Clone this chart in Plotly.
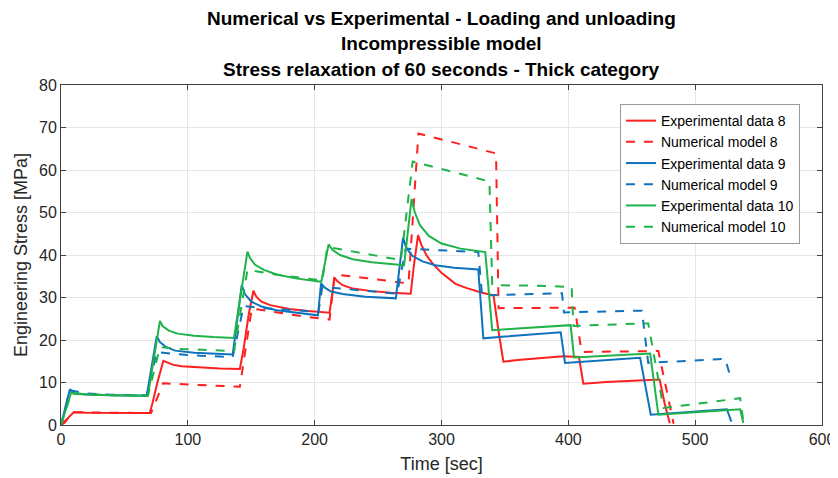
import plotly.graph_objects as go

# ---------------- data ----------------
t_exp8 = [0, 3, 6, 10, 20, 40, 70,
          72, 76, 80.7, 83, 88, 95, 110, 125, 141,
          144, 148, 151.7, 154, 158, 165, 180, 195, 211.7,
          213, 215.7, 218, 222, 230, 245, 260, 275.7,
          278, 281.5, 284, 288, 293, 300, 311, 320, 332, 341,
          345, 348.8, 360, 380, 396, 408.4,
          411.8, 430, 450, 472,
          476, 480]
s_exp8 = [0, 0.6, 1.8, 3.0, 2.9, 2.8, 2.8,
          5, 10, 15.1, 14.8, 14.2, 13.8, 13.5, 13.3, 13.2,
          18, 26, 31.6, 30.2, 29.0, 28.2, 27.3, 26.8, 26.4,
          29, 34.6, 33.8, 32.9, 32.1, 31.5, 31.1, 30.9,
          37, 44.7, 42.5, 40.0, 38.0, 35.8, 33.2, 32.2, 31.1, 30.5,
          22, 14.9, 15.3, 15.8, 16.2, 16.0,
          9.7, 10.1, 10.4, 10.7,
          5, 0.4]

t_num8 = [0, 10, 40, 71,
          80.5, 100, 120, 141,
          150.4, 170, 190, 211.7,
          215.7, 240, 260, 274,
          281.8, 300, 320, 343,
          345, 380, 405,
          410.5, 440, 471,
          483]
s_num8 = [0, 3.0, 2.9, 2.8,
          9.8, 9.5, 9.2, 9.0,
          27.4, 26.5, 25.6, 24.8,
          35.4, 34.6, 33.9, 33.3,
          68.6, 67.2, 65.7, 63.9,
          27.5, 27.5, 27.6,
          17.2, 17.3, 17.4,
          0.3]

t_exp9 = [0, 7, 10, 20, 40, 67.6,
          75.5, 78, 83, 90, 105, 120, 135.4,
          142.5, 145, 150, 158, 170, 185, 202.6,
          205, 208, 213, 222, 240, 264,
          269.7, 272, 277, 285, 295, 310, 329,
          333, 350, 370, 394,
          397.4, 420, 440, 456.6,
          465, 490, 525, 528.5]
s_exp9 = [0, 8.4, 7.5, 7.2, 7.0, 6.9,
          20.9, 19.5, 18.3, 17.5, 17.0, 16.8, 16.6,
          32.9, 30.8, 29.0, 27.9, 27.0, 26.4, 25.8,
          33.3, 32.3, 31.4, 30.8, 30.2, 29.8,
          44.1, 41.8, 39.8, 38.5, 37.6, 37.0, 36.6,
          20.4, 20.8, 21.3, 21.8,
          14.6, 15.0, 15.4, 15.8,
          2.4, 3.0, 3.7, 0.8]

t_num9 = [0, 7, 20, 40, 67.6,
          75.5, 90, 110, 135.4,
          144, 160, 180, 203,
          206, 230, 250, 265,
          271.8, 290, 310, 329,
          332, 360, 395,
          396.5, 420, 440, 458,
          463, 490, 523.7,
          527.6]
s_num9 = [0, 8.2, 7.4, 7.1, 7.0,
          17.2, 16.7, 16.3, 16.0,
          28.0, 27.5, 27.0, 26.6,
          32.5, 31.8, 31.3, 30.9,
          41.5, 41.2, 40.9, 40.7,
          30.5, 30.8, 31.0,
          26.5, 26.7, 26.8, 26.9,
          14.6, 15.1, 15.6,
          11.5]

t_exp10 = [0, 8, 11, 20, 40, 68.5,
           78, 80, 85, 92, 105, 120, 136.4,
           147, 149, 153, 160, 170, 185, 205.2,
           211, 214, 220, 230, 245, 260, 270.5,
           276.4, 279, 283, 290, 300, 315, 334.5,
           340, 360, 380, 401.8,
           404.5, 425, 445, 464.5,
           471, 500, 535.5, 538]
s_exp10 = [0, 7.6, 7.3, 7.2, 7.0, 6.9,
           24.5, 23.3, 22.2, 21.5, 21.0, 20.7, 20.5,
           40.8, 39.3, 37.7, 36.5, 35.4, 34.5, 33.7,
           42.5, 41.2, 40.0, 39.0, 38.3, 37.9, 37.6,
           53.2, 50.0, 47.0, 44.5, 42.7, 41.5, 40.7,
           22.3, 22.7, 23.1, 23.5,
           15.9, 16.2, 16.5, 16.8,
           2.4, 3.0, 3.7, 0.5]

t_num10 = [0, 8, 20, 40, 68.5,
           78, 95, 115, 136.4,
           147, 165, 185, 206,
           210, 230, 250, 268,
           277.3, 300, 320, 337.8,
           340, 370, 402.6,
           404, 430, 463,
           475, 505, 535.5,
           538]
s_num10 = [0, 7.5, 7.2, 7.0, 6.9,
           18.3, 17.9, 17.6, 17.4,
           36.5, 35.6, 34.8, 34.0,
           41.9, 40.8, 39.7, 38.8,
           62.0, 60.3, 58.7, 57.3,
           32.9, 32.8, 32.5,
           23.3, 23.6, 23.9,
           4.0, 5.1, 6.3,
           0.8]

x_ticks = [0, 100, 200, 300, 400, 500, 600]
y_ticks = [0, 10, 20, 30, 40, 50, 60, 70, 80]

title_lines = ["Numerical vs Experimental - Loading and unloading",
               "Incompressible model",
               "Stress relaxation of 60 seconds - Thick category"]

# ---------------- styling ----------------
RED = "#ff1f1f"
BLUE = "#0f72bd"
GREEN = "#1fb34a"
FONT = "Liberation Sans, Arial, sans-serif"
TXT = "#262626"

series = [
    ("Experimental data 8", t_exp8, s_exp8, RED, "solid"),
    ("Numerical model 8", t_num8, s_num8, RED, "dash"),
    ("Experimental data 9", t_exp9, s_exp9, BLUE, "solid"),
    ("Numerical model 9", t_num9, s_num9, BLUE, "dash"),
    ("Experimental data 10", t_exp10, s_exp10, GREEN, "solid"),
    ("Numerical model 10", t_num10, s_num10, GREEN, "dash"),
]

fig = go.Figure()
for name, tx, sy, col, dash in series:
    fig.add_trace(go.Scatter(x=tx, y=sy, mode="lines", name=name,
                             line=dict(color=col, width=2, dash=dash)))

# The page body adds an 8px offset; the figure is sized so that the plot
# area lands at x 61..822 px, y 85..425 px of the 838x478 window.
OFF = 8
PLOT_TOP, PLOT_BOTTOM = 85, 425
title_px = [18, 44, 70]
for txt, py in zip(title_lines, title_px):
    fig.add_annotation(text="<b>" + txt + "</b>", xref="paper", yref="paper",
                       x=0.5, y=(PLOT_BOTTOM - py) / (PLOT_BOTTOM - PLOT_TOP),
                       xanchor="center", yanchor="middle", showarrow=False,
                       font=dict(family=FONT, size=19, color="black"))

fig.update_layout(
    width=838 - OFF, height=478 - OFF,
    margin=dict(l=61 - OFF, r=16, t=85 - OFF, b=53),
    paper_bgcolor="white", plot_bgcolor="white",
    font=dict(family=FONT, color=TXT, size=16),
    legend=dict(x=0.971, xanchor="right", y=0.944, yanchor="top",
                bgcolor="white", bordercolor="#999999", borderwidth=1,
                font=dict(family=FONT, size=14, color="black"),
                itemwidth=30, tracegroupgap=0),
    showlegend=True,
)
fig.update_xaxes(range=[0, 600], tickvals=x_ticks, automargin=False,
                 title=dict(text="Time [sec]", font=dict(size=18), standoff=10),
                 showgrid=True, gridcolor="#e6e6e6", gridwidth=1,
                 showline=True, linecolor="#404040", linewidth=1, mirror="ticks",
                 ticks="inside", ticklen=5, tickcolor="#404040",
                 zeroline=False, tickfont=dict(size=16))
fig.update_yaxes(range=[0, 80], tickvals=y_ticks, automargin=False,
                 title=dict(text="Engineering Stress [MPa]", font=dict(size=18), standoff=6),
                 showgrid=True, gridcolor="#e6e6e6", gridwidth=1,
                 showline=True, linecolor="#404040", linewidth=1, mirror="ticks",
                 ticks="inside", ticklen=5, tickcolor="#404040",
                 zeroline=False, tickfont=dict(size=16))

fig.write_html("out.html")
